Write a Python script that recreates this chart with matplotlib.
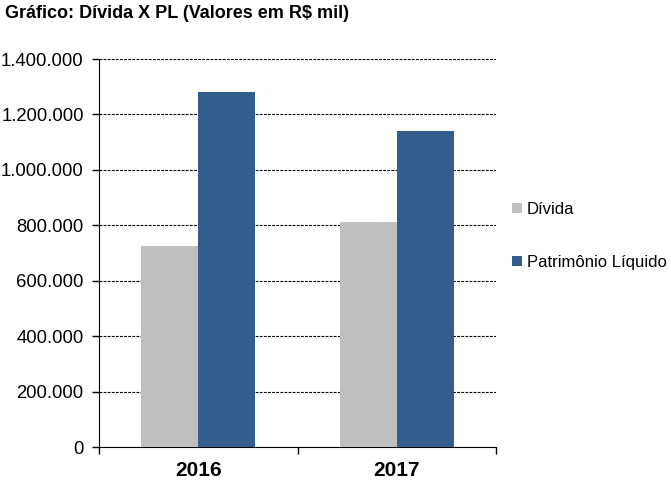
import numpy as np
import matplotlib.pyplot as plt
from matplotlib.ticker import FuncFormatter, FixedLocator

anos = ["2016", "2017"]
divida = [725000, 812000]
patrimonio = [1281000, 1140000]
yticks = [0, 200000, 400000, 600000, 800000, 1000000, 1200000, 1400000]


def fmt(v, pos):
    return "{:,.0f}".format(v).replace(",", ".")


def main():
    plt.rcParams['font.family'] = ['Liberation Sans', 'DejaVu Sans']
    fig = plt.figure(figsize=(6.71, 4.91), dpi=100)
    ax = fig.add_axes([99 / 671, 44 / 491, 397 / 671, 388 / 491])
    x = np.arange(len(anos))
    w = 0.286
    ax.bar(x - w / 2, divida, w, color="#BFBFBF", label="Dívida", zorder=3)
    ax.bar(x + w / 2, patrimonio, w, color="#335D8D", label="Patrimônio Líquido", zorder=3)

    ax.set_xlim(-0.5, len(anos) - 0.5)
    ax.set_ylim(0, 1400000)
    ax.set_yticks(yticks)
    ax.yaxis.set_major_formatter(FuncFormatter(fmt))
    ax.set_xticks(x)
    ax.set_xticklabels(anos, fontsize=15, fontweight="bold")
    ax.xaxis.set_minor_locator(FixedLocator([-0.5, 0.5, 1.5]))
    ax.tick_params(axis="x", which="major", length=0, pad=10)
    ax.tick_params(axis="x", which="minor", length=5, width=1)
    ax.tick_params(axis="y", length=5, width=1, labelsize=13.3, pad=6)
    ax.grid(axis="y", linestyle=(0, (2.5, 1.2)), color="black", linewidth=0.8, zorder=0)
    ax.spines["top"].set_visible(False)
    ax.spines["right"].set_visible(False)

    fig.text(5 / 671, 1 - 13 / 491, "Gráfico: Dívida X PL (Valores em R$ mil)",
             fontsize=13, fontweight="bold", va="center", ha="left")

    fig.legend(loc="upper left", bbox_to_anchor=(505 / 671, 1 - 195 / 491), frameon=False,
               fontsize=12, handlelength=0.6, handleheight=0.6, handletextpad=0.3,
               labelspacing=2.3, borderaxespad=0)
    fig.savefig("out.png", dpi=100)


if __name__ == '__main__':
    main()
